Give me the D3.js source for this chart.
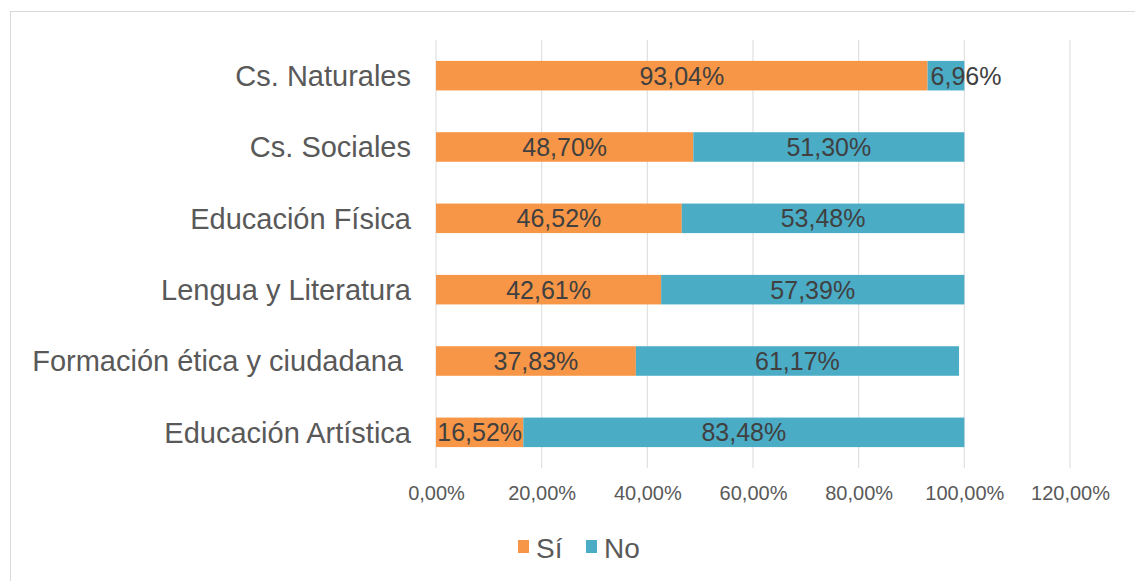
<!DOCTYPE html>
<html>
<head>
<meta charset="utf-8">
<script src="https://cdn.jsdelivr.net/npm/d3@7"></script>
<style>
  body { margin: 0; background: #fff; }
  svg { font-family: "Liberation Sans", Arial, sans-serif; }
</style>
</head>
<body>
<div id="chart"></div>
<script>
// Chart data
const categories = ['Cs. Naturales', 'Cs. Sociales', 'Educación Física', 'Lengua y Literatura', 'Formación ética y ciudadana ', 'Educación Artística'];
const siValues = [0.9304, 0.4870, 0.4652, 0.4261, 0.3783, 0.1652];
const noValues = [0.0696, 0.5130, 0.5348, 0.5739, 0.6117, 0.8348];
const seriesNames = ['Sí', 'No'];
const tickValues = [0, 0.2, 0.4, 0.6, 0.8, 1.0, 1.2];

const colors = ['#F79646', '#4BACC6'];
const width = 1135, height = 581;
const plot = {left: 436, right: 1070, top: 40, bottom: 468};

const fmt = v => (v * 100).toFixed(2).replace('.', ',') + '%';

const svg = d3.select('#chart').append('svg')
    .attr('width', width)
    .attr('height', height);

// outer frame
svg.append('rect')
    .attr('x', 10.5).attr('y', 11.5)
    .attr('width', width).attr('height', height)
    .attr('fill', 'none')
    .attr('stroke', '#d9d9d9');

const x = d3.scaleLinear().domain([0, 1.2]).range([plot.left, plot.right]);
const y = d3.scaleBand()
    .domain(categories)
    .range([plot.top, plot.bottom])
    .paddingInner(0.586)
    .paddingOuter(0.293);

// gridlines
svg.append('g')
    .selectAll('line')
    .data(tickValues)
    .enter().append('line')
    .attr('x1', d => x(d)).attr('x2', d => x(d))
    .attr('y1', plot.top).attr('y2', plot.bottom)
    .attr('stroke', '#e0e0e0')
    .attr('stroke-width', 1.2);

// x axis tick labels
const xAxis = svg.append('g')
    .attr('transform', `translate(0,${plot.bottom})`)
    .call(d3.axisBottom(x).tickValues(tickValues).tickFormat(fmt).tickSize(0).tickPadding(18))
    .attr('font-family', null)
    .attr('font-size', null);
xAxis.select('.domain').remove();
xAxis.selectAll('text')
    .style('font-size', '20px')
    .style('fill', '#595959');

// category labels
svg.append('g')
    .selectAll('text')
    .data(categories)
    .enter().append('text')
    .attr('x', 411)
    .attr('y', d => y(d) + y.bandwidth() / 2)
    .attr('dy', '0.36em')
    .attr('text-anchor', 'end')
    .style('white-space', 'pre')
    .style('font-size', '29px')
    .style('fill', '#595959')
    .text(d => d);

// stacked data
const rows = categories.map((c, i) => ({cat: c, Sí: siValues[i], No: noValues[i]}));
const stacked = d3.stack().keys(seriesNames)(rows);

const layers = svg.append('g')
    .selectAll('g')
    .data(stacked)
    .enter().append('g')
    .attr('fill', (d, i) => colors[i]);

layers.selectAll('rect')
    .data(d => d)
    .enter().append('rect')
    .attr('x', d => x(d[0]))
    .attr('y', d => y(d.data.cat))
    .attr('width', d => x(d[1]) - x(d[0]))
    .attr('height', y.bandwidth());

// value labels (narrow segments get a left-aligned label that overflows)
layers.selectAll('text')
    .data(d => d)
    .enter().append('text')
    .attr('x', d => {
        const w = x(d[1]) - x(d[0]);
        return w < 60 ? x(d[0]) + 3 : (x(d[0]) + x(d[1])) / 2;
    })
    .attr('y', d => y(d.data.cat) + y.bandwidth() / 2)
    .attr('dy', '0.36em')
    .attr('text-anchor', d => (x(d[1]) - x(d[0])) < 60 ? 'start' : 'middle')
    .style('font-size', '25px')
    .style('fill', '#404040')
    .text(d => fmt(d[1] - d[0]));

// legend
const legend = svg.append('g');
const legendItems = [{name: seriesNames[0], x: 518}, {name: seriesNames[1], x: 586}];
legendItems.forEach((item, i) => {
    legend.append('rect')
        .attr('x', item.x).attr('y', 540)
        .attr('width', 11).attr('height', 13)
        .attr('fill', colors[i]);
    legend.append('text')
        .attr('x', item.x + 18).attr('y', 558)
        .style('font-size', '28px')
        .style('fill', '#595959')
        .text(item.name);
});
</script>
</body>
</html>
